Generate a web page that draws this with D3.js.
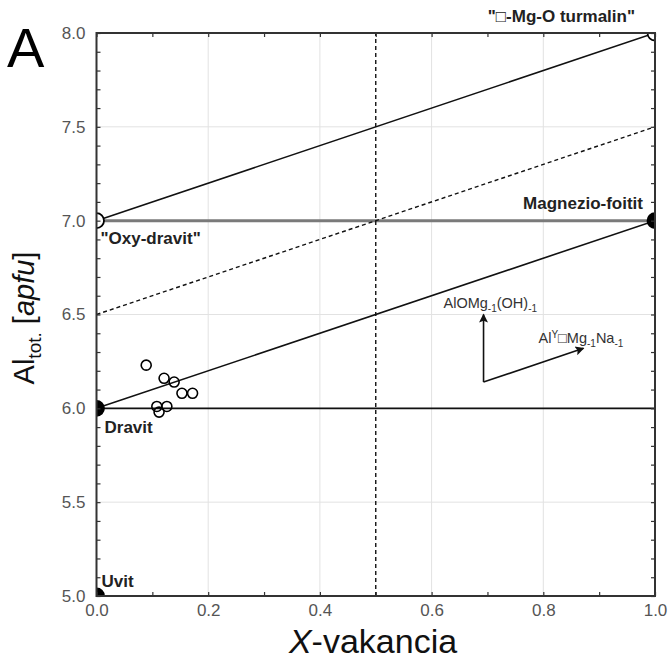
<!DOCTYPE html>
<html>
<head>
<meta charset="utf-8">
<script src="https://cdn.jsdelivr.net/npm/d3@7"></script>
<style>
  body { margin: 0; background: #fff; }
  svg { font-family: "Liberation Sans", Arial, sans-serif; }
</style>
</head>
<body>
<svg id="chart" width="668" height="659"></svg>
<script>
// measured samples
const vacancy = [0.089, 0.121, 0.139, 0.153, 0.172, 0.108, 0.126, 0.112];
const alTot   = [6.23, 6.16, 6.14, 6.08, 6.08, 6.01, 6.01, 5.98];

// end members
const emNames  = ["Uvit", "Dravit", "\"Oxy-dravit\"", "Magnezio-foitit", "\"\u25A1-Mg-O turmalin\""];
const emX      = [0, 0, 0, 1, 1];
const emY      = [5, 6, 7, 7, 8];
const emFilled = [true, true, false, true, false];

// reference lines [x1, y1, x2, y2]
const solidLines  = [[0, 7, 1, 8], [0, 6, 1, 7], [0, 6, 1, 6]];
const dashedLines = [[0, 6.5, 1, 7.5], [0.5, 5, 0.5, 8]];
const grayLines   = [[0, 7, 1, 7]];

// substitution vectors
const vecOrigin = [0.693, 6.14];
const vecEnds   = [[0.693, 6.5], [0.872, 6.32]];

const xTicks = [0, 0.2, 0.4, 0.6, 0.8, 1.0];
const yTicks = [5.0, 5.5, 6.0, 6.5, 7.0, 7.5, 8.0];

const margin = {left: 96.5, right: 13, top: 33, bottom: 63};
const width = 668, height = 659;

const svg = d3.select("#chart");
const x = d3.scaleLinear().domain([0, 1]).range([margin.left, width - margin.right]);
const y = d3.scaleLinear().domain([5, 8]).range([height - margin.bottom, margin.top]);

svg.append("defs").append("clipPath").attr("id", "plot-clip")
  .append("rect")
  .attr("x", x(0)).attr("y", y(8))
  .attr("width", x(1) - x(0)).attr("height", y(5) - y(8));

const marker = svg.select("defs").append("marker")
  .attr("id", "arrow")
  .attr("viewBox", "0 0 10 10")
  .attr("refX", 9).attr("refY", 5)
  .attr("markerWidth", 13).attr("markerHeight", 9)
  .attr("markerUnits", "userSpaceOnUse")
  .attr("orient", "auto");
marker.append("path").attr("d", "M0,0L10,5L0,10L2,5Z").attr("fill", "#111");

// grid
const grid = svg.append("g").attr("stroke", "#e2e2e2").attr("stroke-width", 1);
grid.selectAll("line.gx").data(xTicks.slice(1, -1)).join("line")
  .attr("x1", d => x(d)).attr("x2", d => x(d))
  .attr("y1", y(5)).attr("y2", y(8));
grid.selectAll("line.gy").data(yTicks.slice(1, -1)).join("line")
  .attr("y1", d => y(d)).attr("y2", d => y(d))
  .attr("x1", x(0)).attr("x2", x(1));

// lines
const plot = svg.append("g").attr("clip-path", "url(#plot-clip)");
plot.selectAll("line.gray").data(grayLines).join("line")
  .attr("x1", d => x(d[0])).attr("y1", d => y(d[1]))
  .attr("x2", d => x(d[2])).attr("y2", d => y(d[3]))
  .attr("stroke", "#7a7a7a").attr("stroke-width", 3);
plot.selectAll("line.solid").data(solidLines).join("line")
  .attr("x1", d => x(d[0])).attr("y1", d => y(d[1]))
  .attr("x2", d => x(d[2])).attr("y2", d => y(d[3]))
  .attr("stroke", "#111").attr("stroke-width", 1.6);
plot.selectAll("line.dash").data(dashedLines).join("line")
  .attr("x1", d => x(d[0])).attr("y1", d => y(d[1]))
  .attr("x2", d => x(d[2])).attr("y2", d => y(d[3]))
  .attr("stroke", "#111").attr("stroke-width", 1.4)
  .attr("stroke-dasharray", "4,3");

// end member symbols
plot.selectAll("circle.em").data(emX).join("circle")
  .attr("cx", (d, i) => x(d)).attr("cy", (d, i) => y(emY[i]))
  .attr("r", 7.5)
  .attr("fill", (d, i) => emFilled[i] ? "#000" : "#fff")
  .attr("stroke", "#000").attr("stroke-width", 1.8);

// samples
plot.selectAll("circle.pt").data(vacancy).join("circle")
  .attr("cx", d => x(d)).attr("cy", (d, i) => y(alTot[i]))
  .attr("r", 5)
  .attr("fill", "none")
  .attr("stroke", "#000").attr("stroke-width", 1.6);

// substitution vectors
svg.selectAll("line.vec").data(vecEnds).join("line")
  .attr("x1", x(vecOrigin[0])).attr("y1", y(vecOrigin[1]))
  .attr("x2", d => x(d[0])).attr("y2", d => y(d[1]))
  .attr("stroke", "#111").attr("stroke-width", 1.6)
  .attr("marker-end", "url(#arrow)");

const v1 = svg.append("text").attr("x", x(vecOrigin[0]) - 40).attr("y", y(vecEnds[0][1]) - 7)
  .attr("font-size", 14.5).attr("fill", "#333");
v1.append("tspan").text("AlOMg");
v1.append("tspan").attr("font-size", 10).attr("dy", 4).text("-1");
v1.append("tspan").attr("dy", -4).text("(OH)");
v1.append("tspan").attr("font-size", 10).attr("dy", 4).text("-1");

const v2 = svg.append("text").attr("x", x(vecEnds[1][0]) - 45).attr("y", y(vecEnds[1][1]) - 5)
  .attr("font-size", 14.5).attr("fill", "#333");
v2.append("tspan").text("Al");
v2.append("tspan").attr("font-size", 10).attr("dy", -5).text("Y");
v2.append("tspan").attr("dy", 5).text("\u25A1Mg");
v2.append("tspan").attr("font-size", 10).attr("dy", 4).text("-1");
v2.append("tspan").attr("dy", -4).text("Na");
v2.append("tspan").attr("font-size", 10).attr("dy", 4).text("-1");

// frame + ticks
const minorX = d3.range(0, 1.0001, 0.1);
const minorY = d3.range(5, 8.0001, 0.1);
function tickAxis(axis, tr) {
  const g = svg.append("g").attr("transform", tr).call(axis);
  g.select(".domain").remove();
  g.selectAll(".tick line").attr("stroke", "#333").attr("stroke-width", 1.2);
  g.selectAll(".tick text").remove();
}
tickAxis(d3.axisBottom(x).tickValues(minorX).tickSize(-4), `translate(0,${y(5)})`);
tickAxis(d3.axisTop(x).tickValues(minorX).tickSize(-4), `translate(0,${y(8)})`);
tickAxis(d3.axisLeft(y).tickValues(minorY).tickSize(-4), `translate(${x(0)},0)`);
tickAxis(d3.axisRight(y).tickValues(minorY).tickSize(-4), `translate(${x(1)},0)`);

svg.append("rect")
  .attr("x", x(0)).attr("y", y(8))
  .attr("width", x(1) - x(0)).attr("height", y(5) - y(8))
  .attr("fill", "none").attr("stroke", "#333").attr("stroke-width", 2);

// tick labels
const xa = svg.append("g").attr("transform", `translate(0,${y(5)})`)
  .call(d3.axisBottom(x).tickValues(xTicks).tickSize(0).tickPadding(8).tickFormat(d3.format(".1f")));
xa.select(".domain").remove();
xa.selectAll("text").attr("font-size", 17).attr("fill", "#555").attr("font-family", "Liberation Sans, Arial, sans-serif");

const ya = svg.append("g").attr("transform", `translate(${x(0)},0)`)
  .call(d3.axisLeft(y).tickValues(yTicks).tickSize(0).tickPadding(11).tickFormat(d3.format(".1f")));
ya.select(".domain").remove();
ya.selectAll("text").attr("font-size", 17).attr("fill", "#555").attr("font-family", "Liberation Sans, Arial, sans-serif");

// end member labels
const emDx = [5, 8, 4, -12, -20];
const emDy = [-9, 25, 23, -12, -11];
const emAnchor = ["start", "start", "start", "end", "end"];
svg.selectAll("text.em").data(emNames).join("text")
  .attr("x", (d, i) => x(emX[i]) + emDx[i])
  .attr("y", (d, i) => y(emY[i]) + emDy[i])
  .attr("text-anchor", (d, i) => emAnchor[i])
  .attr("font-size", 17).attr("font-weight", "bold").attr("fill", "#222")
  .text(d => d);

// axis titles
const xt = svg.append("text").attr("x", 373).attr("y", 653)
  .attr("text-anchor", "middle").attr("font-size", 34).attr("fill", "#111");
xt.append("tspan").attr("font-style", "italic").text("X");
xt.append("tspan").text("-vakancia");

const yt = svg.append("text").attr("transform", "translate(34,318) rotate(-90)")
  .attr("text-anchor", "middle").attr("font-size", 29).attr("fill", "#111");
yt.append("tspan").text("Al");
yt.append("tspan").attr("font-size", 19).attr("dy", 7).text("tot.");
yt.append("tspan").attr("dy", -7).text(" [");
yt.append("tspan").attr("font-style", "italic").text("apfu");
yt.append("tspan").text("]");

// panel letter
svg.append("text").attr("x", 7).attr("y", 67)
  .attr("font-size", 56).attr("fill", "#000").text("A");
</script>
</body>
</html>
